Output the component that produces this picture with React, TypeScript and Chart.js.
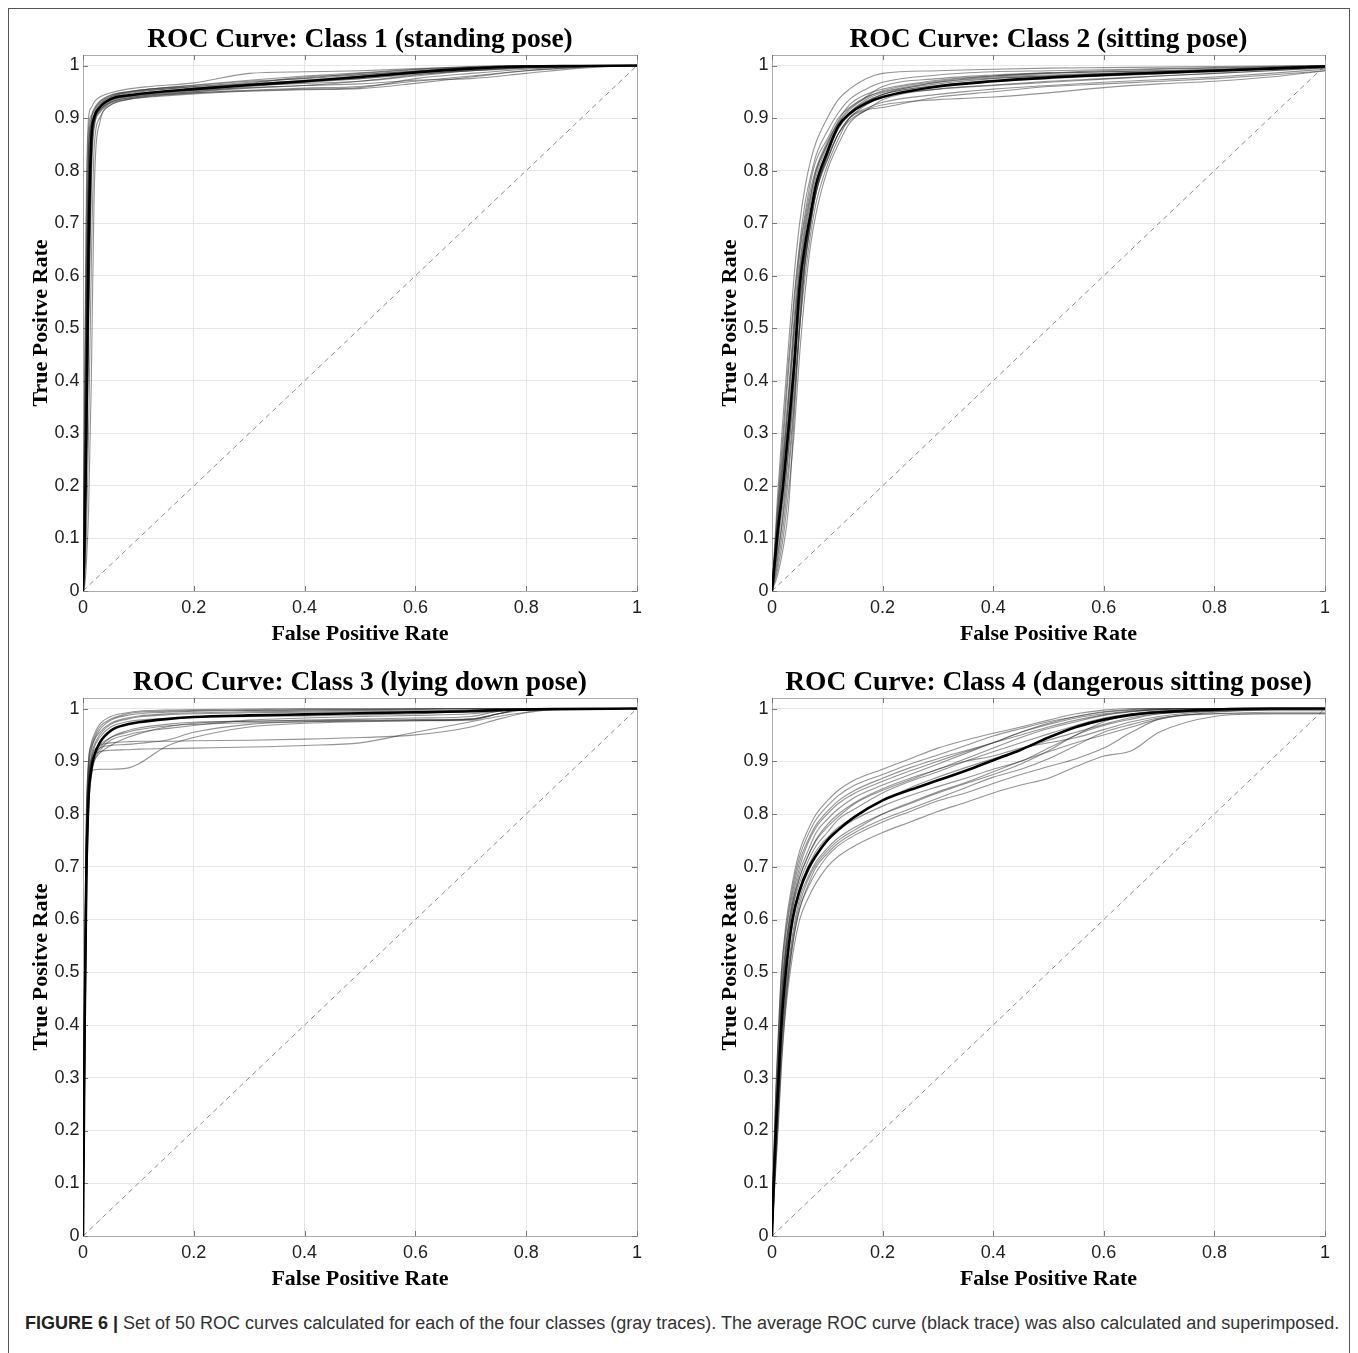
import React, { useEffect, useRef } from "react";
import { Chart, registerables } from "chart.js";

Chart.register(...registerables);

// ---------- shared axis data ----------
const xTicks = [0, 0.2, 0.4, 0.6, 0.8, 1];
const xTickLabels = ["0", "0.2", "0.4", "0.6", "0.8", "1"];
const yTicks = [0, 0.1, 0.2, 0.3, 0.4, 0.5, 0.6, 0.7, 0.8, 0.9, 1];
const yTickLabels = ["0", "0.1", "0.2", "0.3", "0.4", "0.5", "0.6", "0.7", "0.8", "0.9", "1"];
const diagX = [0, 1];
const diagY = [0, 1];

const panelTitles = [
  "ROC Curve: Class 1 (standing pose)",
  "ROC Curve: Class 2 (sitting pose)",
  "ROC Curve: Class 3 (lying down pose)",
  "ROC Curve: Class 4 (dangerous sitting pose)",
];
const xAxisTitle = "False Positive Rate";
const yAxisTitle = "True Positve Rate";

// ---------- Class 1 ----------
const fpr1 = [0, 0.003, 0.006, 0.01, 0.015, 0.02, 0.03, 0.05, 0.08, 0.12, 0.2, 0.3, 0.4, 0.5, 0.6, 0.7, 0.8, 0.9, 1];
const mean1 = [0, 0.1, 0.3, 0.65, 0.86, 0.9, 0.92, 0.936, 0.943, 0.948, 0.955, 0.963, 0.97, 0.978, 0.987, 0.994, 0.998, 0.999, 1];
const gray1 = [
  [0, 0.3, 0.62, 0.85, 0.9, 0.915, 0.93, 0.943, 0.95, 0.955, 0.962, 0.97, 0.975, 0.982, 0.99, 0.996, 0.999, 1, 1],
  [0, 0.08, 0.25, 0.55, 0.82, 0.885, 0.912, 0.93, 0.938, 0.944, 0.95, 0.957, 0.962, 0.97, 0.982, 0.992, 0.998, 1, 1],
  [0, 0.02, 0.1, 0.3, 0.62, 0.84, 0.9, 0.925, 0.935, 0.941, 0.948, 0.953, 0.957, 0.96, 0.97, 0.98, 0.99, 0.997, 1],
  [0, 0.4, 0.75, 0.9, 0.92, 0.93, 0.94, 0.948, 0.955, 0.96, 0.967, 0.985, 0.988, 0.99, 0.994, 0.997, 1, 1, 1],
  [0, 0.12, 0.4, 0.72, 0.86, 0.895, 0.915, 0.932, 0.94, 0.945, 0.952, 0.958, 0.962, 0.965, 0.972, 0.975, 0.985, 0.995, 1],
  [0, 0.05, 0.2, 0.5, 0.8, 0.89, 0.922, 0.938, 0.946, 0.952, 0.96, 0.968, 0.976, 0.985, 0.992, 0.997, 1, 1, 1],
  [0, 0.01, 0.05, 0.15, 0.4, 0.75, 0.89, 0.925, 0.935, 0.942, 0.948, 0.952, 0.955, 0.958, 0.975, 0.985, 0.993, 0.998, 1],
  [0, 0.2, 0.55, 0.82, 0.895, 0.912, 0.928, 0.941, 0.949, 0.955, 0.963, 0.972, 0.98, 0.986, 0.993, 0.998, 1, 1, 1],
  [0, 0.15, 0.45, 0.76, 0.875, 0.898, 0.915, 0.93, 0.938, 0.943, 0.95, 0.96, 0.968, 0.975, 0.985, 0.99, 0.995, 0.998, 1],
  [0, 0.35, 0.7, 0.88, 0.905, 0.918, 0.932, 0.944, 0.95, 0.955, 0.96, 0.965, 0.972, 0.98, 0.988, 0.995, 0.999, 1, 1],
  [0, 0.25, 0.58, 0.83, 0.89, 0.905, 0.922, 0.935, 0.942, 0.948, 0.956, 0.966, 0.978, 0.983, 0.989, 0.996, 0.999, 1, 1],
  [0, 0.06, 0.22, 0.5, 0.78, 0.88, 0.91, 0.928, 0.936, 0.94, 0.946, 0.951, 0.954, 0.956, 0.966, 0.978, 0.99, 0.997, 1],
  [0, 0.18, 0.5, 0.8, 0.885, 0.905, 0.925, 0.94, 0.948, 0.953, 0.958, 0.962, 0.966, 0.97, 0.98, 0.99, 0.997, 1, 1],
  [0, 0.1, 0.35, 0.68, 0.85, 0.892, 0.918, 0.934, 0.941, 0.947, 0.953, 0.962, 0.97, 0.975, 0.983, 0.99, 0.996, 0.999, 1],
];

// ---------- Class 2 ----------
const fpr2 = [0, 0.01, 0.02, 0.03, 0.04, 0.05, 0.06, 0.07, 0.08, 0.1, 0.12, 0.14, 0.17, 0.2, 0.3, 0.4, 0.5, 0.6, 0.7, 0.8, 0.9, 1];
const mean2 = [0, 0.11, 0.2, 0.31, 0.43, 0.58, 0.66, 0.72, 0.775, 0.835, 0.885, 0.908, 0.928, 0.94, 0.96, 0.97, 0.977, 0.982, 0.986, 0.99, 0.994, 0.998];
const gray2 = [
  [0, 0.18, 0.33, 0.47, 0.6, 0.7, 0.77, 0.82, 0.855, 0.9, 0.935, 0.955, 0.975, 0.985, 0.99, 0.993, 0.995, 0.996, 0.997, 0.998, 0.999, 1],
  [0, 0.04, 0.1, 0.19, 0.3, 0.45, 0.57, 0.66, 0.72, 0.8, 0.85, 0.89, 0.915, 0.925, 0.935, 0.94, 0.948, 0.958, 0.965, 0.97, 0.978, 0.99],
  [0, 0.09, 0.2, 0.34, 0.48, 0.6, 0.68, 0.74, 0.79, 0.845, 0.885, 0.91, 0.93, 0.945, 0.962, 0.972, 0.978, 0.983, 0.987, 0.99, 0.993, 0.997],
  [0, 0.13, 0.25, 0.36, 0.5, 0.62, 0.7, 0.755, 0.8, 0.85, 0.895, 0.925, 0.945, 0.955, 0.972, 0.98, 0.985, 0.988, 0.99, 0.992, 0.995, 0.998],
  [0, 0.06, 0.15, 0.27, 0.38, 0.5, 0.6, 0.68, 0.74, 0.81, 0.86, 0.9, 0.918, 0.93, 0.945, 0.955, 0.962, 0.968, 0.973, 0.978, 0.985, 0.993],
  [0, 0.12, 0.24, 0.33, 0.44, 0.55, 0.63, 0.7, 0.76, 0.83, 0.88, 0.91, 0.935, 0.948, 0.965, 0.975, 0.98, 0.984, 0.987, 0.99, 0.994, 0.998],
  [0, 0.08, 0.17, 0.27, 0.4, 0.54, 0.64, 0.71, 0.77, 0.82, 0.87, 0.895, 0.915, 0.935, 0.955, 0.963, 0.97, 0.975, 0.98, 0.985, 0.99, 0.996],
  [0, 0.15, 0.28, 0.42, 0.55, 0.65, 0.72, 0.78, 0.82, 0.86, 0.9, 0.92, 0.94, 0.95, 0.968, 0.978, 0.982, 0.985, 0.988, 0.991, 0.995, 0.999],
  [0, 0.03, 0.08, 0.16, 0.33, 0.5, 0.63, 0.71, 0.76, 0.82, 0.87, 0.9, 0.915, 0.92, 0.94, 0.95, 0.96, 0.965, 0.97, 0.975, 0.982, 0.99],
  [0, 0.1, 0.23, 0.37, 0.5, 0.61, 0.69, 0.75, 0.8, 0.85, 0.89, 0.915, 0.94, 0.96, 0.975, 0.982, 0.986, 0.988, 0.99, 0.993, 0.996, 0.999],
  [0, 0.07, 0.14, 0.24, 0.36, 0.5, 0.62, 0.7, 0.76, 0.83, 0.88, 0.905, 0.93, 0.945, 0.968, 0.976, 0.98, 0.984, 0.988, 0.992, 0.996, 0.999],
  [0, 0.14, 0.26, 0.38, 0.52, 0.64, 0.71, 0.765, 0.805, 0.855, 0.892, 0.918, 0.938, 0.952, 0.97, 0.98, 0.986, 0.99, 0.993, 0.995, 0.997, 1],
  [0, 0.1, 0.19, 0.29, 0.41, 0.56, 0.65, 0.72, 0.775, 0.84, 0.885, 0.91, 0.932, 0.945, 0.962, 0.97, 0.975, 0.98, 0.984, 0.988, 0.993, 0.997],
  [0, 0.05, 0.12, 0.22, 0.35, 0.52, 0.63, 0.7, 0.76, 0.825, 0.87, 0.9, 0.925, 0.94, 0.955, 0.962, 0.968, 0.974, 0.98, 0.985, 0.99, 0.995],
  [0, 0.16, 0.3, 0.44, 0.56, 0.66, 0.74, 0.79, 0.83, 0.875, 0.91, 0.935, 0.955, 0.968, 0.982, 0.988, 0.99, 0.992, 0.994, 0.996, 0.998, 1],
];

// ---------- Class 3 ----------
const fpr3 = [0, 0.003, 0.006, 0.01, 0.015, 0.02, 0.03, 0.05, 0.08, 0.1, 0.15, 0.2, 0.3, 0.4, 0.5, 0.6, 0.7, 0.75, 0.8, 0.85, 1];
const mean3 = [0, 0.4, 0.68, 0.83, 0.885, 0.91, 0.935, 0.958, 0.97, 0.974, 0.98, 0.984, 0.987, 0.989, 0.991, 0.993, 0.995, 0.997, 0.998, 0.999, 1];
const gray3 = [
  [0, 0.3, 0.62, 0.82, 0.878, 0.884, 0.885, 0.885, 0.887, 0.895, 0.928, 0.945, 0.965, 0.972, 0.975, 0.977, 0.98, 0.99, 0.998, 1, 1],
  [0, 0.35, 0.7, 0.86, 0.9, 0.912, 0.918, 0.921, 0.922, 0.923, 0.924, 0.925, 0.927, 0.93, 0.935, 0.955, 0.975, 0.985, 0.993, 1, 1],
  [0, 0.45, 0.75, 0.87, 0.905, 0.92, 0.93, 0.935, 0.937, 0.938, 0.938, 0.939, 0.94, 0.942, 0.945, 0.95, 0.965, 0.98, 0.992, 0.998, 1],
  [0, 0.55, 0.8, 0.9, 0.935, 0.95, 0.97, 0.985, 0.992, 0.995, 0.997, 0.998, 0.999, 1, 1, 1, 1, 1, 1, 1, 1],
  [0, 0.4, 0.7, 0.84, 0.89, 0.91, 0.93, 0.945, 0.955, 0.96, 0.967, 0.97, 0.973, 0.975, 0.976, 0.977, 0.978, 0.99, 1, 1, 1],
  [0, 0.5, 0.76, 0.88, 0.92, 0.94, 0.96, 0.978, 0.987, 0.99, 0.993, 0.995, 0.996, 0.997, 0.998, 0.999, 1, 1, 1, 1, 1],
  [0, 0.35, 0.66, 0.83, 0.89, 0.91, 0.925, 0.93, 0.932, 0.934, 0.94, 0.955, 0.97, 0.975, 0.977, 0.978, 0.98, 0.99, 1, 1, 1],
  [0, 0.45, 0.74, 0.86, 0.91, 0.93, 0.95, 0.97, 0.98, 0.984, 0.988, 0.99, 0.992, 0.993, 0.994, 0.995, 0.997, 0.999, 1, 1, 1],
  [0, 0.3, 0.6, 0.8, 0.87, 0.9, 0.92, 0.94, 0.95, 0.955, 0.962, 0.968, 0.978, 0.982, 0.985, 0.987, 0.99, 0.995, 1, 1, 1],
  [0, 0.5, 0.78, 0.9, 0.93, 0.945, 0.965, 0.98, 0.99, 0.993, 0.995, 0.996, 0.997, 0.998, 0.998, 0.999, 1, 1, 1, 1, 1],
  [0, 0.42, 0.72, 0.86, 0.9, 0.925, 0.945, 0.965, 0.975, 0.978, 0.981, 0.983, 0.985, 0.986, 0.988, 0.99, 0.995, 0.998, 1, 1, 1],
  [0, 0.38, 0.66, 0.82, 0.88, 0.9, 0.915, 0.93, 0.945, 0.952, 0.965, 0.972, 0.976, 0.978, 0.98, 0.982, 0.985, 0.995, 1, 1, 1],
  [0, 0.48, 0.77, 0.89, 0.925, 0.94, 0.955, 0.972, 0.982, 0.986, 0.99, 0.992, 0.994, 0.995, 0.996, 0.997, 0.998, 0.999, 1, 1, 1],
  [0, 0.36, 0.65, 0.82, 0.88, 0.905, 0.925, 0.945, 0.958, 0.963, 0.97, 0.974, 0.976, 0.977, 0.978, 0.979, 0.98, 0.99, 1, 1, 1],
];

// ---------- Class 4 ----------
const fpr4 = [0, 0.003, 0.007, 0.012, 0.017, 0.025, 0.037, 0.05, 0.065, 0.08, 0.1, 0.12, 0.15, 0.2, 0.25, 0.3, 0.35, 0.4, 0.45, 0.5, 0.55, 0.6, 0.65, 0.7, 0.8, 0.9, 1];
const mean4 = [0, 0.1, 0.2, 0.3, 0.4, 0.5, 0.6, 0.655, 0.695, 0.722, 0.75, 0.77, 0.795, 0.826, 0.846, 0.864, 0.882, 0.902, 0.922, 0.945, 0.965, 0.979, 0.988, 0.993, 0.998, 1, 1];
const gray4 = [
  [0, 0.15, 0.28, 0.4, 0.5, 0.58, 0.66, 0.72, 0.76, 0.79, 0.815, 0.835, 0.855, 0.875, 0.895, 0.912, 0.93, 0.948, 0.962, 0.975, 0.985, 0.993, 0.997, 0.999, 1, 1, 1],
  [0, 0.06, 0.13, 0.22, 0.32, 0.43, 0.53, 0.6, 0.64, 0.67, 0.7, 0.72, 0.74, 0.765, 0.785, 0.805, 0.822, 0.84, 0.855, 0.868, 0.89, 0.91, 0.92, 0.955, 0.985, 0.99, 0.99],
  [0, 0.12, 0.24, 0.35, 0.46, 0.55, 0.63, 0.69, 0.73, 0.765, 0.79, 0.81, 0.832, 0.855, 0.875, 0.895, 0.915, 0.935, 0.955, 0.97, 0.982, 0.99, 0.995, 0.998, 1, 1, 1],
  [0, 0.08, 0.17, 0.27, 0.37, 0.47, 0.57, 0.64, 0.68, 0.71, 0.735, 0.755, 0.775, 0.8, 0.82, 0.84, 0.858, 0.875, 0.895, 0.92, 0.95, 0.968, 0.98, 0.99, 0.995, 0.998, 1],
  [0, 0.1, 0.21, 0.32, 0.43, 0.53, 0.62, 0.67, 0.71, 0.74, 0.765, 0.79, 0.81, 0.84, 0.862, 0.88, 0.9, 0.918, 0.935, 0.952, 0.968, 0.982, 0.99, 0.995, 0.999, 1, 1],
  [0, 0.07, 0.15, 0.25, 0.35, 0.45, 0.55, 0.62, 0.665, 0.7, 0.725, 0.745, 0.765, 0.79, 0.81, 0.83, 0.85, 0.87, 0.885, 0.905, 0.93, 0.955, 0.97, 0.982, 0.99, 0.99, 0.99],
  [0, 0.13, 0.26, 0.38, 0.48, 0.57, 0.65, 0.71, 0.75, 0.78, 0.805, 0.825, 0.845, 0.868, 0.888, 0.905, 0.92, 0.935, 0.95, 0.965, 0.978, 0.988, 0.995, 0.998, 1, 1, 1],
  [0, 0.09, 0.19, 0.29, 0.39, 0.49, 0.59, 0.65, 0.69, 0.72, 0.75, 0.77, 0.79, 0.815, 0.835, 0.852, 0.868, 0.885, 0.9, 0.925, 0.95, 0.975, 0.99, 0.995, 0.998, 1, 1],
  [0, 0.11, 0.22, 0.33, 0.44, 0.54, 0.63, 0.68, 0.72, 0.75, 0.775, 0.795, 0.82, 0.845, 0.865, 0.885, 0.9, 0.91, 0.925, 0.935, 0.945, 0.96, 0.975, 0.985, 0.995, 0.998, 0.998],
  [0, 0.06, 0.14, 0.23, 0.33, 0.44, 0.55, 0.62, 0.66, 0.69, 0.72, 0.74, 0.76, 0.785, 0.805, 0.825, 0.84, 0.858, 0.875, 0.89, 0.905, 0.925, 0.955, 0.98, 0.99, 0.993, 0.993],
  [0, 0.14, 0.27, 0.39, 0.5, 0.59, 0.67, 0.73, 0.77, 0.8, 0.825, 0.845, 0.865, 0.885, 0.905, 0.925, 0.94, 0.953, 0.965, 0.978, 0.99, 0.997, 1, 1, 1, 1, 1],
  [0, 0.1, 0.2, 0.3, 0.41, 0.51, 0.6, 0.66, 0.7, 0.73, 0.755, 0.775, 0.795, 0.825, 0.85, 0.87, 0.888, 0.905, 0.922, 0.94, 0.955, 0.97, 0.983, 0.99, 0.996, 0.999, 1],
  [0, 0.12, 0.23, 0.34, 0.45, 0.55, 0.64, 0.7, 0.745, 0.775, 0.8, 0.82, 0.84, 0.862, 0.882, 0.9, 0.918, 0.935, 0.955, 0.972, 0.985, 0.994, 0.998, 1, 1, 1, 1],
  [0, 0.08, 0.16, 0.26, 0.36, 0.46, 0.56, 0.63, 0.675, 0.705, 0.73, 0.75, 0.77, 0.8, 0.822, 0.842, 0.86, 0.88, 0.9, 0.918, 0.935, 0.95, 0.965, 0.98, 0.993, 0.997, 0.997],
  [0, 0.11, 0.22, 0.33, 0.43, 0.53, 0.62, 0.68, 0.72, 0.752, 0.78, 0.8, 0.822, 0.848, 0.868, 0.885, 0.905, 0.925, 0.945, 0.962, 0.975, 0.987, 0.994, 0.998, 1, 1, 1],
];

const captionBold = "FIGURE 6 |";
const captionText =
  " Set of 50 ROC curves calculated for each of the four classes (gray traces). The average ROC curve (black trace) was also calculated and superimposed.";

// ---------- layout (page pixel geometry of each plot area) ----------
const SERIF = '"Liberation Serif", "Times New Roman", serif';
const SANS = '"Liberation Sans", Arial, Helvetica, sans-serif';
const Y_AXIS_W = 66;
const X_AXIS_H = 62;
const TITLE_BLOCK = 50;
const RIGHT_PAD = 12;

const panels = [
  { title: panelTitles[0], fpr: fpr1, mean: mean1, gray: gray1, L: 83, R: 637, T: 55, B: 591 },
  { title: panelTitles[1], fpr: fpr2, mean: mean2, gray: gray2, L: 772, R: 1325, T: 55, B: 591 },
  { title: panelTitles[2], fpr: fpr3, mean: mean3, gray: gray3, L: 83, R: 637, T: 698, B: 1236 },
  { title: panelTitles[3], fpr: fpr4, mean: mean4, gray: gray4, L: 772, R: 1325, T: 698, B: 1236 },
];

const boxPlugin = {
  id: "matlabBox",
  beforeDatasetsDraw(chart: any) {
    const { ctx, chartArea, scales } = chart;
    const { left, right, top, bottom } = chartArea;
    ctx.save();
    ctx.strokeStyle = "#ababab";
    ctx.lineWidth = 1;
    ctx.strokeRect(Math.round(left) + 0.5, Math.round(top) + 0.5, Math.round(right - left), Math.round(bottom - top));
    ctx.strokeStyle = "#7a7a7a";
    ctx.beginPath();
    xTicks.forEach((v) => {
      const px = Math.round(scales.x.getPixelForValue(v)) + 0.5;
      ctx.moveTo(px, bottom);
      ctx.lineTo(px, bottom - 5);
      ctx.moveTo(px, top);
      ctx.lineTo(px, top + 5);
    });
    yTicks.forEach((v) => {
      const py = Math.round(scales.y.getPixelForValue(v)) + 0.5;
      ctx.moveTo(left, py);
      ctx.lineTo(left + 5, py);
      ctx.moveTo(right, py);
      ctx.lineTo(right - 5, py);
    });
    ctx.stroke();
    ctx.restore();
  },
};

function toPoints(xs: number[], ys: number[]) {
  return xs.map((x, i) => ({ x, y: ys[i] }));
}

function Panel({ p }: { p: any }) {
  const ref = useRef<HTMLCanvasElement>(null);
  const CL = p.L - Y_AXIS_W;
  const CT = p.T - TITLE_BLOCK;
  const CW = p.R + RIGHT_PAD - CL;
  const CH = p.B + X_AXIS_H - CT;

  useEffect(() => {
    if (!ref.current) return;
    const datasets: any[] = [];
    datasets.push({
      data: toPoints(p.fpr, p.mean),
      showLine: true,
      borderColor: "#000000",
      borderWidth: 2.6,
      pointRadius: 0,
      cubicInterpolationMode: "monotone",
    });
    p.gray.forEach((g: number[]) => {
      datasets.push({
        data: toPoints(p.fpr, g),
        showLine: true,
        borderColor: "rgba(50,50,50,0.52)",
        borderWidth: 1.1,
        pointRadius: 0,
        cubicInterpolationMode: "monotone",
      });
    });
    datasets.push({
      data: toPoints(diagX, diagY),
      showLine: true,
      borderColor: "#8c8c8c",
      borderWidth: 1,
      borderDash: [5, 4],
      pointRadius: 0,
    });

    const chart = new Chart(ref.current, {
      type: "scatter",
      data: { datasets },
      options: {
        animation: false,
        responsive: false,
        devicePixelRatio: 1,
        events: [],
        layout: { padding: { left: 0, top: 0, bottom: 0, right: RIGHT_PAD } },
        plugins: {
          legend: { display: false },
          tooltip: { enabled: false },
          title: {
            display: true,
            text: p.title,
            fullSize: false,
            color: "#000",
            font: { family: SERIF, size: 27.5, weight: "bold", lineHeight: 1.1 },
            padding: { top: 19.75, bottom: 0 },
          },
        },
        scales: {
          x: {
            type: "linear",
            min: 0,
            max: 1,
            afterBuildTicks: (s: any) => {
              s.ticks = xTicks.map((v) => ({ value: v }));
            },
            afterFit: (s: any) => {
              s.height = X_AXIS_H;
            },
            ticks: {
              autoSkip: false,
              maxRotation: 0,
              padding: 6,
              color: "#222",
              font: { family: SANS, size: 18 },
              callback: (_v: any, i: number) => xTickLabels[i],
            },
            grid: { color: "#e6e6e6", drawTicks: false, lineWidth: 1 },
            border: { display: false },
            title: {
              display: true,
              text: xAxisTitle,
              color: "#000",
              font: { family: SERIF, size: 22, weight: "bold" },
              padding: { top: 0, bottom: 5.8 },
            },
          },
          y: {
            type: "linear",
            min: 0,
            max: 1.02,
            afterBuildTicks: (s: any) => {
              s.ticks = yTicks.map((v) => ({ value: v }));
            },
            afterFit: (s: any) => {
              s.width = Y_AXIS_W;
            },
            ticks: {
              autoSkip: false,
              padding: 3.5,
              color: "#222",
              font: { family: SANS, size: 18 },
              callback: (_v: any, i: number) => yTickLabels[i],
            },
            grid: { color: "#e6e6e6", drawTicks: false, lineWidth: 1 },
            border: { display: false },
            title: {
              display: true,
              text: yAxisTitle,
              color: "#000",
              font: { family: SERIF, size: 22, weight: "bold" },
              padding: { top: 11.3, bottom: 0 },
            },
          },
        },
      },
      plugins: [boxPlugin],
    } as any);
    return () => chart.destroy();
  }, []);

  return (
    <canvas
      ref={ref}
      width={CW}
      height={CH}
      style={{ position: "absolute", left: CL, top: CT, width: CW, height: CH }}
    />
  );
}

export default function App() {
  return (
    <div
      style={{
        position: "fixed",
        left: 0,
        top: 0,
        width: 1358,
        height: 1353,
        background: "#ffffff",
        overflow: "hidden",
      }}
    >
      <div
        style={{
          position: "absolute",
          left: 8,
          top: 8,
          width: 1342,
          height: 1360,
          border: "1px solid #555",
          boxSizing: "border-box",
        }}
      />
      {panels.map((p, i) => (
        <Panel key={i} p={p} />
      ))}
      <div
        style={{
          position: "absolute",
          left: 25,
          top: 1313,
          whiteSpace: "nowrap",
          fontFamily: SANS,
          fontSize: 18,
          lineHeight: "21px",
          color: "#333",
        }}
      >
        <span style={{ fontWeight: "bold", color: "#222" }}>{captionBold}</span>
        {captionText}
      </div>
    </div>
  );
}
